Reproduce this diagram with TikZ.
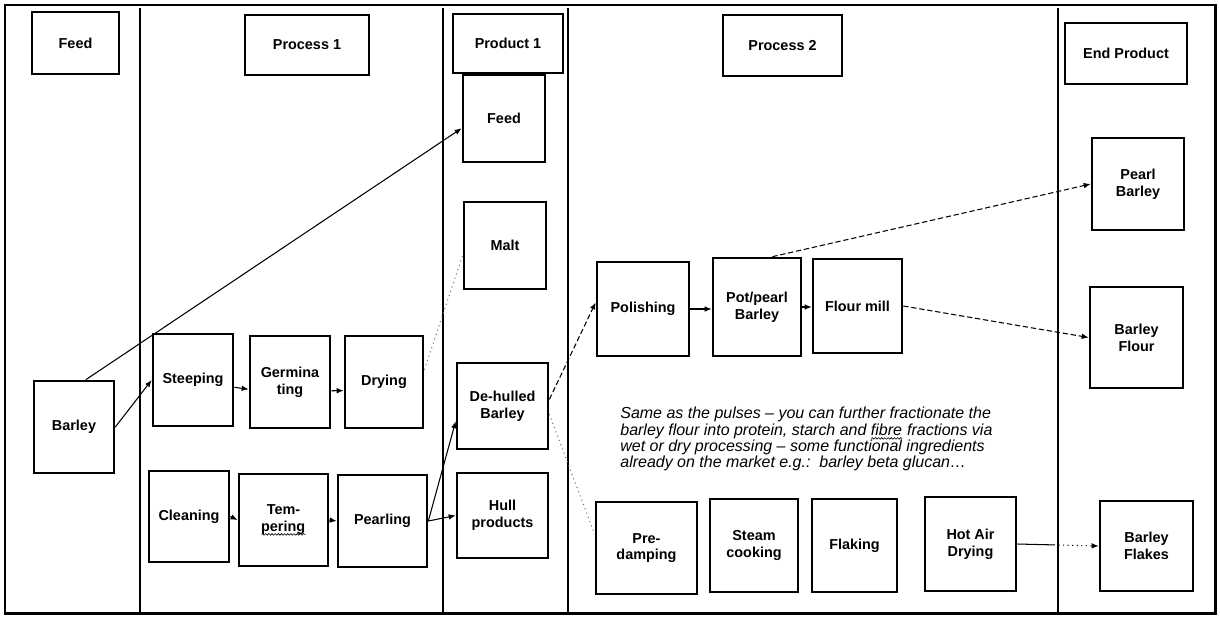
\documentclass[tikz,border=0pt]{standalone}
\usepackage{fontspec}
\setmainfont{Liberation Sans}
\usetikzlibrary{arrows.meta,calc,decorations.pathmorphing}

% box given by its corners (in px units): [style]{name}{x1}{y1}{x2}{y2}{text}
\newcommand\bxnode[7][]{%
  \node[procbox,#1,minimum width={(#5-#3)*0.02cm},minimum height={(#6-#4)*0.02cm}]
    (#2) at ({(#3+#5)/2},{(#4+#6)/2}) {#7};}

% word with a small wavy underline
\newlength\squiglen
\newcommand\squig[1]{\settowidth\squiglen{#1}\leavevmode\rlap{#1}%
  \raisebox{-2.4pt}{\tikz[x=1pt,y=1pt]\draw[line width=0.35pt,decorate,
    decoration={snake,amplitude=0.45pt,segment length=1.8pt}] (0,0) -- (\squiglen,0);}}

\begin{document}
\begin{tikzpicture}[x=0.02cm,y=-0.02cm,
  procbox/.style={draw, line width=1.5pt, align=center, inner sep=1pt,
    font=\fontsize{8.2}{9.6}\selectfont\bfseries},
  headbox/.style={line width=1.6pt},
  link/.style={line width=0.6pt},
  arr/.style={link, -{Latex[length=4pt,width=3.2pt]}},
  dashlink/.style={arr, dash pattern=on 3pt off 1.6pt},
  faint/.style={line width=0.6pt, black!55, dotted},
  divider/.style={line width=1pt},
  outerframe/.style={line width=1.7pt},
  paratext/.style={align=left, inner sep=0pt,
    font=\fontsize{9.1}{9.3}\selectfont\itshape}]

\useasboundingbox (0,0) rectangle (1220,619);

% frame and column dividers
\draw[outerframe] (5,5) rectangle (1215,613);
\foreach \x in {140,443,568,1058} \draw[divider] (\x,8) -- (\x,613);

% column headings
\bxnode[headbox]{hfeed}{32}{12}{119}{74}{Feed}
\bxnode[headbox]{hproc1}{245}{15}{369}{75}{Process 1}
\bxnode[headbox]{hprod1}{453}{14}{563}{73}{Product 1}
\bxnode[headbox]{hproc2}{723}{15}{842}{76}{Process 2}
\bxnode[headbox]{hend}{1065}{23}{1187}{84}{End Product}

% feed
\bxnode{barley}{34}{381}{114}{473}{Barley}

% process 1
\bxnode{steep}{153}{334}{233}{426}{Steeping}
\bxnode{germ}{250}{336}{330}{428}{Germina\\ting}
\bxnode{dry}{345}{336}{423}{428}{Drying}
\bxnode{clean}{149}{471}{229}{562}{Cleaning}
\bxnode{temper}{239}{474}{328}{566}{Tem-\\\squig{pering}}
\bxnode{pearling}{338}{475}{427}{567}{Pearling}

% product 1
\bxnode{feed}{463}{75}{545}{162}{Feed}
\bxnode{malt}{464}{202}{546}{289}{Malt}
\bxnode{dehull}{457}{363}{548}{449}{De-hulled\\Barley}
\bxnode{hull}{457}{473}{548}{558}{Hull\\products}

% process 2
\bxnode{polish}{597}{262}{689}{356}{Polishing}
\bxnode{potpearl}{713}{258}{801}{356}{Pot/pearl\\Barley}
\bxnode{flour}{813}{259}{902}{353}{Flour mill}
\bxnode{predamp}{596}{502}{697}{594}{Pre-\\damping}
\bxnode{steam}{710}{499}{798}{592}{Steam\\cooking}
\bxnode{flaking}{812}{499}{897}{592}{Flaking}
\bxnode{hotair}{925}{497}{1016}{591}{Hot Air\\Drying}

% end products
\bxnode{pearl}{1092}{138}{1184}{230}{Pearl\\Barley}
\bxnode{bflour}{1090}{287}{1183}{388}{Barley\\Flour}
\bxnode{flakes}{1100}{501}{1193}{591}{Barley\\Flakes}

% note
\node[paratext, anchor=north west] (note) at (620,407)
  {Same as the pulses – you can further fractionate the\\
   barley flour into protein, starch and \squig{fibre} fractions via\\
   wet or dry processing – some functional ingredients\\
   already on the market e.g.:\ \ barley beta glucan\ldots};

% connectors
\draw[arr] (barley.76) -- (feed.193);
\draw[arr] (barley.east) -- (steep.west);
\draw[arr] (steep.-10) -- (germ.190);
\draw[arr] (germ.-12) -- (dry.192);
\draw[faint] (dry.17) -- (malt.193);
\draw[arr] (clean.east) -- (temper.west);
\draw[arr] (temper.east) -- (pearling.west);
\draw[arr] (pearling.east) -- (dehull.198);
\draw[arr] (pearling.east) -- (hull.west);
\draw[dashlink] (dehull.8) -- (polish.172);
\draw[faint] (dehull.-10) -- (predamp.165);
\draw[arr] (polish.east) -- (polish.east -| potpearl.west);
\draw[arr] (potpearl.east) -- (potpearl.east -| flour.west);
\draw[dashlink] (potpearl.73) -- (pearl.west);
\draw[dashlink] (flour.east) -- (bflour.west);
\coordinate (hamid) at ($(hotair.east)!0.45!(flakes.west)$);
\draw[link] (hotair.east) -- (hamid);
\draw[arr, dotted] (hamid) -- (flakes.west);
\end{tikzpicture}
\end{document}
